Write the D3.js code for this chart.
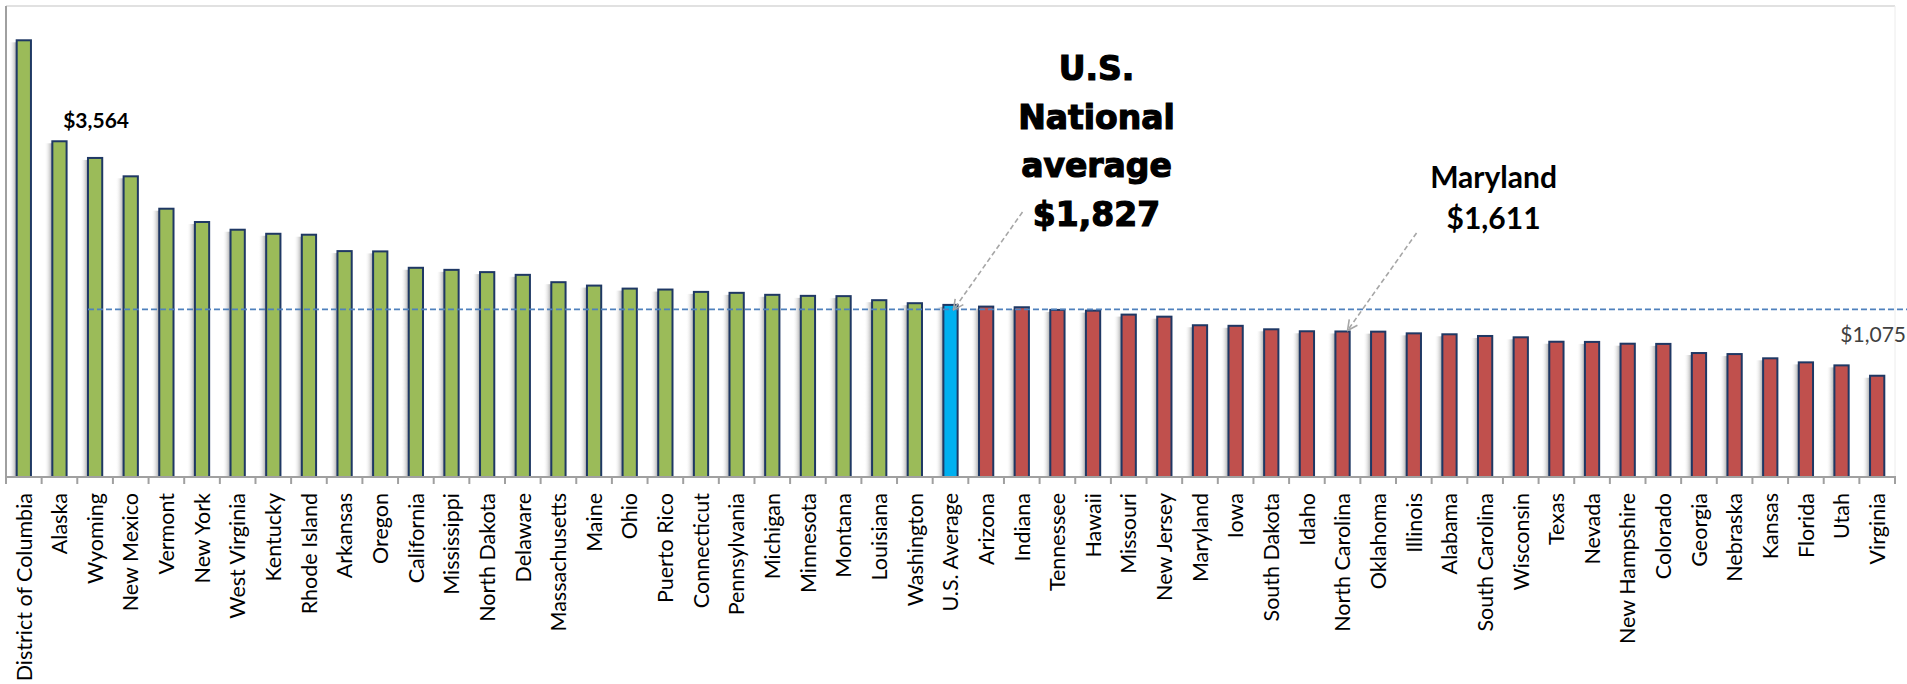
<!DOCTYPE html>
<html lang="en">
<head>
<meta charset="utf-8">
<title>Per-student cost by state</title>
<script src="https://cdn.jsdelivr.net/npm/d3@7/dist/d3.min.js"></script>
<style>
  body { margin: 0; background: #ffffff; overflow: hidden; font-family: "Lato", sans-serif; }
  .xlabel { font-size: 21.5px; fill: #000; }
</style>
</head>
<body>
<div id="chart"></div>
<script>
// states in the order they are drawn (highest to lowest)
var states = ["District of Columbia", "Alaska", "Wyoming", "New Mexico", "Vermont", "New York",
  "West Virginia", "Kentucky", "Rhode Island", "Arkansas", "Oregon", "California", "Mississippi",
  "North Dakota", "Delaware", "Massachusetts", "Maine", "Ohio", "Puerto Rico", "Connecticut",
  "Pennsylvania", "Michigan", "Minnesota", "Montana", "Louisiana", "Washington", "U.S. Average",
  "Arizona", "Indiana", "Tennessee", "Hawaii", "Missouri", "New Jersey", "Maryland", "Iowa",
  "South Dakota", "Idaho", "North Carolina", "Oklahoma", "Illinois", "Alabama", "South Carolina",
  "Wisconsin", "Texas", "Nevada", "New Hampshire", "Colorado", "Georgia", "Nebraska", "Kansas",
  "Florida", "Utah", "Virginia"];

// dollars
var values = [4636, 3564, 3387, 3192, 2848, 2707,
  2625, 2582, 2572, 2398, 2395, 2221, 2199,
  2175, 2146, 2068, 2032, 2000, 1990, 1965,
  1955, 1934, 1923, 1920, 1877, 1845, 1827,
  1809, 1802, 1774, 1766, 1724, 1702, 1611, 1605,
  1568, 1547, 1545, 1543, 1525, 1515, 1497,
  1483, 1436, 1434, 1415, 1413, 1316, 1305, 1260,
  1217, 1185, 1075];

var avgName = "U.S. Average";
var avgValue = 1827;
var refLineValue = 1780;     // the dashed line
var refLineFrom = "Wyoming";  // dashed line starts at this bar
var yMax = 5000;

var data = states.map(function(s, i) { return {name: s, value: values[i]}; });
var avgIndex = states.indexOf(avgName);

var W = 1907, H = 684;
var plotLeft = 6, plotRight = 1895, plotTop = 6, base = 477;

var svg = d3.select("#chart").append("svg")
  .attr("width", W)
  .attr("height", H);

var defs = svg.append("defs");
var grad = defs.append("linearGradient").attr("id", "shade")
  .attr("x1", "0%").attr("x2", "100%").attr("y1", "0%").attr("y2", "0%");
grad.append("stop").attr("offset", "0%").attr("stop-color", "#ffffff").attr("stop-opacity", 0);
grad.append("stop").attr("offset", "100%").attr("stop-color", "#7f7f7f").attr("stop-opacity", 0.75);

defs.append("marker").attr("id", "arrow")
  .attr("viewBox", "0 0 12 12")
  .attr("refX", 11).attr("refY", 6)
  .attr("markerWidth", 12).attr("markerHeight", 12)
  .attr("markerUnits", "userSpaceOnUse")
  .attr("orient", "auto")
  .append("path")
  .attr("d", "M1,1 L11,6 L1,11")
  .attr("fill", "none")
  .attr("stroke", "#a6a6a6")
  .attr("stroke-width", 1.6);

var x = d3.scaleBand()
  .domain(states)
  .range([plotLeft, plotRight])
  .paddingInner(0.6)
  .paddingOuter(0.3);

var y = d3.scaleLinear()
  .domain([0, yMax])
  .range([base, plotTop]);

var bw = x.bandwidth();
var step = x.step();

// frame
svg.append("line").attr("x1", plotLeft).attr("x2", plotRight).attr("y1", plotTop).attr("y2", plotTop)
  .style("stroke", "#c4c4c4").style("stroke-width", 1.2);
svg.append("line").attr("x1", plotRight).attr("x2", plotRight).attr("y1", plotTop).attr("y2", base)
  .style("stroke", "#ececec").style("stroke-width", 1);

// shadows
svg.selectAll("rect.shadow").data(data).enter().append("rect")
  .attr("class", "shadow")
  .attr("x", function(d) { return x(d.name) - 8; })
  .attr("y", function(d) { return y(d.value) + 2; })
  .attr("width", 8)
  .attr("height", function(d) { return base - y(d.value) - 2; })
  .style("fill", "url(#shade)");

// bars
svg.selectAll("rect.bar").data(data).enter().append("rect")
  .attr("class", "bar")
  .attr("x", function(d) { return x(d.name); })
  .attr("y", function(d) { return y(d.value); })
  .attr("width", bw)
  .attr("height", function(d) { return base - y(d.value); })
  .style("fill", function(d, i) {
    if (i == avgIndex) return "#00b0f0";
    return i < avgIndex ? "#9bbb59" : "#c0504d";
  })
  .style("stroke", "#1f3864")
  .style("stroke-width", 2);

// dashed reference line
svg.append("line")
  .attr("x1", x(refLineFrom))
  .attr("x2", W)
  .attr("y1", y(refLineValue))
  .attr("y2", y(refLineValue))
  .style("stroke", "#4f81bd")
  .style("stroke-width", 1.8)
  .style("stroke-dasharray", "6,3");

// axes
svg.append("line").attr("x1", plotLeft).attr("x2", plotLeft).attr("y1", plotTop).attr("y2", base + 1)
  .style("stroke", "#a0a0a0").style("stroke-width", 2);
svg.append("line").attr("x1", plotLeft).attr("x2", plotRight + 1).attr("y1", base).attr("y2", base)
  .style("stroke", "#a0a0a0").style("stroke-width", 2);

var tickPos = states.map(function(s) { return x(s) + bw / 2 - step / 2; });
tickPos.push(plotRight);
svg.selectAll("line.tick").data(tickPos).enter().append("line")
  .attr("class", "tick")
  .attr("x1", function(d) { return d; })
  .attr("x2", function(d) { return d; })
  .attr("y1", base)
  .attr("y2", base + 7)
  .style("stroke", "#a0a0a0")
  .style("stroke-width", 2);

// category labels
svg.selectAll("text.xlabel").data(data).enter().append("text")
  .attr("class", "xlabel")
  .attr("transform", function(d) {
    return "translate(" + (x(d.name) + bw / 2) + "," + (base + 16) + ") rotate(-90)";
  })
  .attr("text-anchor", "end")
  .attr("dy", "0.36em")
  .text(function(d) { return d.name; });

// value labels
var fmt = d3.format("$,");
var ak = data[1];
svg.append("text")
  .attr("x", x(ak.name) + bw / 2 + step + 1)
  .attr("y", y(ak.value) - 13)
  .attr("text-anchor", "middle")
  .style("font-family", "Lato")
  .style("font-weight", "bold")
  .style("font-size", "21px")
  .text(fmt(ak.value));

var last = data[data.length - 1];
svg.append("text")
  .attr("x", x(last.name) + bw / 2 - 4)
  .attr("y", y(last.value) - 34)
  .attr("text-anchor", "middle")
  .style("font-family", "Lato")
  .style("font-size", "21px")
  .style("fill", "#404040")
  .text(fmt(last.value));

// U.S. average callout
var ax = x(avgName) + bw / 2;
var avgLines = ["U.S.", "National", "average", fmt(avgValue)];
svg.append("text")
  .attr("text-anchor", "middle")
  .style("font-family", "DejaVu Sans")
  .style("font-weight", "bold")
  .style("font-size", "33px")
  .style("stroke", "#000")
  .style("stroke-width", 1.2)
  .selectAll("tspan").data(avgLines).enter().append("tspan")
  .attr("x", ax + 146)
  .attr("y", function(d, i) { return 80 + i * 48.6; })
  .text(function(d) { return d; });

svg.append("line")
  .attr("x1", ax + 72).attr("y1", 212)
  .attr("x2", ax + 3).attr("y2", y(avgValue) + 5)
  .style("stroke", "#a6a6a6")
  .style("stroke-width", 1.6)
  .style("stroke-dasharray", "5,3")
  .attr("marker-end", "url(#arrow)");

// Maryland callout
var mdValue = values[states.indexOf("Maryland")];
var nc = "North Carolina";
var ncx = x(nc) + bw / 2;
svg.append("text")
  .attr("text-anchor", "middle")
  .style("font-family", "Lato")
  .style("font-weight", "bold")
  .style("font-size", "30px")
  .selectAll("tspan").data(["Maryland", fmt(mdValue)]).enter().append("tspan")
  .attr("x", ncx + 151)
  .attr("y", function(d, i) { return 188 + i * 41; })
  .text(function(d) { return d; });

svg.append("line")
  .attr("x1", ncx + 74).attr("y1", 233)
  .attr("x2", ncx + 5).attr("y2", y(values[states.indexOf(nc)]) - 1)
  .style("stroke", "#a6a6a6")
  .style("stroke-width", 1.6)
  .style("stroke-dasharray", "5,3")
  .attr("marker-end", "url(#arrow)");
</script>
</body>
</html>
